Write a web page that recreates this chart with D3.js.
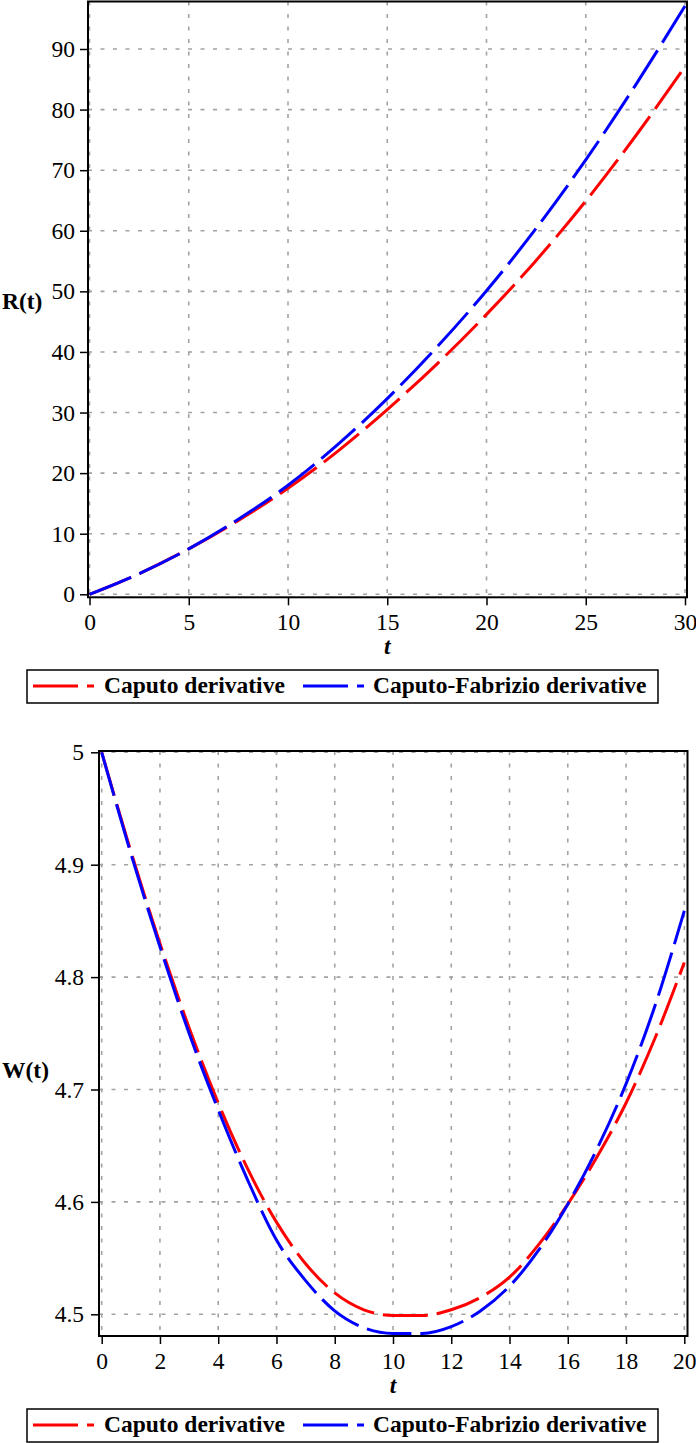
<!DOCTYPE html>
<html>
<head>
<meta charset="utf-8">
<script src="https://cdn.jsdelivr.net/npm/d3@7"></script>
<style>
  html, body { margin: 0; padding: 0; background: #fff; }
  svg { display: block; }
  svg text { font-family: "Liberation Serif", "Times New Roman", serif !important; }
</style>
</head>
<body>
<svg id="chart" width="696" height="1443"></svg>
<script>
// ---------- data ----------
const rT       = [0, 2.5, 5, 7.5, 10, 12.5, 15, 17.5, 20, 22.5, 25, 27.5, 30];
const rCaputo  = [0, 3.4, 7.5, 12.2, 17.5, 23.6, 30.5, 38.0, 46.2, 55.1, 64.9, 75.6, 87.1];
const rCF      = [0, 3.4, 7.5, 12.4, 18.0, 24.7, 32.3, 40.8, 50.1, 60.4, 71.7, 84.0, 97.1];
const rXTicks  = [0, 5, 10, 15, 20, 25, 30];
const rYTicks  = [0, 10, 20, 30, 40, 50, 60, 70, 80, 90];

const wT       = [0, 1, 2, 3, 4, 5, 6, 7, 8, 9, 10, 11, 12, 13, 14, 15, 16, 17, 18, 19, 20];
const wCaputo  = [5.000, 4.912, 4.830, 4.755, 4.688, 4.630, 4.582, 4.545, 4.519, 4.504, 4.499,
                  4.499, 4.504, 4.515, 4.533, 4.562, 4.598, 4.640, 4.688, 4.746, 4.813];
const wCF      = [5.000, 4.910, 4.827, 4.750, 4.682, 4.620, 4.566, 4.530, 4.503, 4.488, 4.483,
                  4.483, 4.489, 4.503, 4.525, 4.557, 4.598, 4.647, 4.705, 4.775, 4.859];
const wXTicks  = [0, 2, 4, 6, 8, 10, 12, 14, 16, 18, 20];
const wYTicks  = [4.5, 4.6, 4.7, 4.8, 4.9, 5];

const seriesNames  = ["Caputo derivative", "Caputo-Fabrizio derivative"];
const seriesColors = ["#ff0000", "#0000ff"];

// ---------- drawing ----------
const svg = d3.select("#chart");
const FS = 23.5;
const FONT = "'Liberation Serif', 'Times New Roman', serif";

function panel(cfg) {
  const g = svg.append("g");
  const x = d3.scaleLinear().domain(cfg.xDomain).range(cfg.xRange);
  const y = d3.scaleLinear().domain(cfg.yDomain).range(cfg.yRange);
  const fr = cfg.frame; // [left, top, right, bottom]

  // grid
  const grid = g.append("g").attr("stroke", "#a3a3a3").attr("stroke-width", 1.6)
    .attr("stroke-dasharray", "4,8.5");
  grid.selectAll("line.v").data(cfg.xTicks).join("line")
    .attr("x1", d => x(d)).attr("x2", d => x(d))
    .attr("y1", fr[1]).attr("y2", fr[3]);
  grid.selectAll("line.h").data(cfg.yTicks).join("line")
    .attr("x1", fr[0]).attr("x2", fr[2])
    .attr("y1", d => y(d)).attr("y2", d => y(d));

  // curves
  const line = d3.line().x(d => x(d[0])).y(d => y(d[1])).curve(d3.curveMonotoneX);
  cfg.series.forEach((s, i) => {
    g.append("path")
      .datum(cfg.t.map((t, k) => [t, s[k]]))
      .attr("d", line)
      .attr("fill", "none")
      .attr("stroke", seriesColors[i])
      .attr("stroke-width", 3)
      .attr("stroke-dasharray", "45,9");
  });

  // frame
  g.append("rect")
    .attr("x", fr[0]).attr("y", fr[1])
    .attr("width", fr[2] - fr[0]).attr("height", fr[3] - fr[1])
    .attr("fill", "none").attr("stroke", "#000").attr("stroke-width", 2);

  // axes
  const xAxis = d3.axisBottom(x).tickValues(cfg.xTicks).tickSize(8).tickPadding(8)
    .tickFormat(d3.format("d"));
  const gx = g.append("g").attr("transform", `translate(0,${fr[3]})`).call(xAxis)
    .attr("font-family", null).attr("font-size", null);
  gx.select(".domain").remove();
  gx.selectAll("line").attr("stroke", "#000").attr("stroke-width", 1.5);
  gx.selectAll("text").style("font-family", FONT).attr("font-size", FS).attr("fill", "#000");

  const yAxis = d3.axisLeft(y).tickValues(cfg.yTicks).tickSize(0).tickPadding(0)
    .tickFormat(cfg.yFormat);
  const gy = g.append("g").attr("transform", `translate(${fr[0]},0)`).call(yAxis)
    .attr("font-family", null).attr("font-size", null);
  gy.select(".domain").remove();
  gy.selectAll("line").attr("x1", -8).attr("x2", 0).attr("stroke", "#000").attr("stroke-width", 1.5);
  gy.selectAll("text").attr("x", -cfg.yLabelGap).style("font-family", FONT)
    .attr("font-size", FS).attr("fill", "#000");

  // axis titles
  g.append("text").attr("x", (x.range()[0] + x.range()[1]) / 2).attr("y", cfg.xTitleY)
    .attr("text-anchor", "middle").attr("font-size", FS)
    .attr("font-weight", "bold").attr("font-style", "italic").text("t");
  g.append("text").attr("x", 2).attr("y", cfg.yTitleY)
    .attr("font-size", FS).attr("font-weight", "bold").text(cfg.yTitle);

  // legend
  const L = cfg.legend; // [left, top, right, bottom]
  const lg = g.append("g");
  lg.append("rect").attr("x", L[0]).attr("y", L[1]).attr("width", L[2] - L[0])
    .attr("height", L[3] - L[1]).attr("fill", "#fff").attr("stroke", "#000").attr("stroke-width", 1.5);
  const ly = L[1] + 16;
  const items = [{ x0: 33, tx: 104 }, { x0: 303, tx: 373 }];
  items.forEach((it, i) => {
    lg.append("line").attr("x1", it.x0).attr("x2", it.x0 + 61).attr("y1", ly).attr("y2", ly)
      .attr("stroke", seriesColors[i]).attr("stroke-width", 3).attr("stroke-dasharray", "45,9");
    lg.append("text").attr("x", it.tx).attr("y", L[1] + 23)
      .attr("font-size", FS).attr("font-weight", "bold").text(seriesNames[i]);
  });
}

panel({
  t: rT, series: [rCaputo, rCF],
  xDomain: [0, 30], xRange: [89.5, 685],
  yDomain: [0, 90], yRange: [594.3, 49],
  frame: [88, 1.5, 687, 597.3],
  xTicks: rXTicks, yTicks: rYTicks, yFormat: d3.format("d"), yLabelGap: 13,
  xTitleY: 654, yTitle: "R(t)", yTitleY: 309,
  legend: [27, 670, 658, 703]
});

panel({
  t: wT, series: [wCaputo, wCF],
  xDomain: [0, 20], xRange: [101.7, 684.3],
  yDomain: [4.5, 5], yRange: [1314.3, 752.3],
  frame: [99, 751, 687.5, 1336],
  xTicks: wXTicks, yTicks: wYTicks, yFormat: d => d === 5 ? "5" : d3.format(".1f")(d), yLabelGap: 15,
  xTitleY: 1393, yTitle: "W(t)", yTitleY: 1078,
  legend: [27, 1409, 658, 1442]
});
</script>
</body>
</html>
